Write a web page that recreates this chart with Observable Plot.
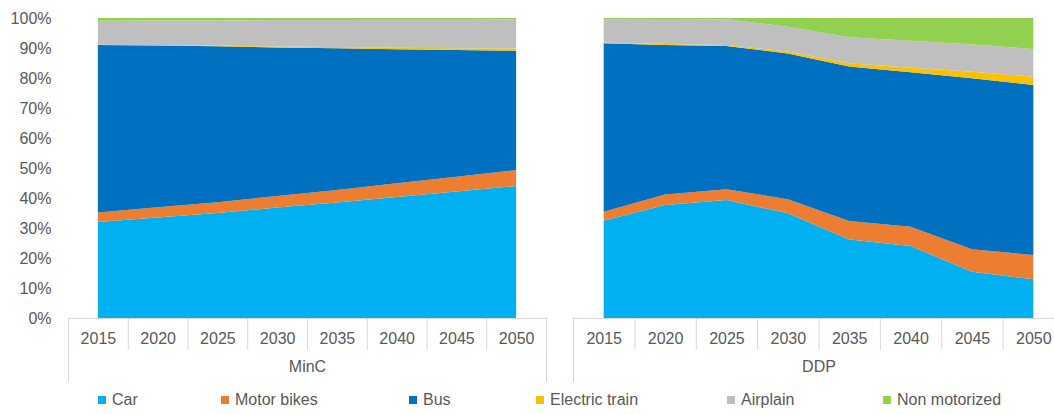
<!DOCTYPE html>
<html><head><meta charset="utf-8">
<script src="https://cdn.jsdelivr.net/npm/d3@7"></script>
<script src="https://cdn.jsdelivr.net/npm/@observablehq/plot@0.6"></script>
<style>
html,body{margin:0;padding:0;background:#fff;}
body{width:1054px;height:414px;overflow:hidden;font-family:"Liberation Sans",Arial,sans-serif;}
#wrap{position:relative;width:1054px;height:414px;overflow:hidden;}
.panel{position:absolute;top:0;}
.panel svg{overflow:visible;max-width:none !important;height:auto;}
#legend{position:absolute;top:391px;left:0;width:1054px;height:18px;font-size:16px;color:#595959;}
.item{position:absolute;top:0;display:flex;align-items:center;white-space:nowrap;line-height:18px;}
.sw{width:8px;height:8px;margin-right:6px;}
</style></head><body>
<div id="wrap"><div id="legend"></div></div>
<script>
// ---- data ----
const years = [2015, 2020, 2025, 2030, 2035, 2040, 2045, 2050];
const scenarios = ["MinC", "DDP"];
const modes = ["Car", "Motor bikes", "Bus", "Electric train", "Airplain", "Non motorized"];
const modeColors = ["#00B0F0", "#ED7D31", "#0070C0", "#FFC000", "#BFBFBF", "#92D050"];
const yTicks = [0, 10, 20, 30, 40, 50, 60, 70, 80, 90, 100];

// MinC shares (%)
const mincCar      = [32.0, 33.5, 35.0, 36.8, 38.5, 40.3, 42.2, 44.0];
const mincBikes    = [3.2, 3.4, 3.6, 3.9, 4.2, 4.6, 4.9, 5.3];
const mincBus      = [55.8, 53.9, 52.0, 49.5, 47.2, 44.7, 42.2, 39.8];
const mincTrain    = [0.1, 0.1, 0.2, 0.3, 0.4, 0.5, 0.6, 0.7];
const mincAir      = [8.0, 8.3, 8.4, 8.8, 9.0, 9.3, 9.5, 9.7];
const mincNonMot   = [0.9, 0.8, 0.8, 0.7, 0.7, 0.6, 0.6, 0.5];

// DDP shares (%)
const ddpCar       = [32.4, 37.7, 39.3, 34.9, 26.2, 24.0, 15.4, 12.9];
const ddpBikes     = [3.0, 3.5, 3.6, 4.7, 6.1, 6.4, 7.5, 8.1];
const ddpBus       = [56.2, 49.8, 47.8, 48.6, 51.5, 51.5, 57.0, 56.7];
const ddpTrain     = [0.2, 0.3, 0.3, 0.6, 1.1, 1.5, 2.2, 2.7];
const ddpAir       = [7.8, 8.4, 8.6, 8.3, 8.7, 9.0, 9.1, 9.3];
const ddpNonMot    = [0.4, 0.3, 0.4, 2.9, 6.4, 7.6, 8.8, 10.3];

const seriesByScenario = {
  MinC: [mincCar, mincBikes, mincBus, mincTrain, mincAir, mincNonMot],
  DDP:  [ddpCar, ddpBikes, ddpBus, ddpTrain, ddpAir, ddpNonMot]
};

// ---- layout ----
const TEXT = "#595959", LINE = "#d9d9d9", FONT = "16px";
const plotTop = 18, plotH = 300, marginBottom = 70;
const pxToY = 100 / plotH; // data units per pixel for axis decorations

function rows(scn) {
  const out = [];
  modes.forEach((m, i) => years.forEach((y, j) => out.push({year: y, mode: m, value: seriesByScenario[scn][i][j]})));
  return out;
}

function panel(scn, opts) {
  const {left, marginLeft, plotW, showY} = opts;
  const step = plotW / years.length;
  const marks = [
    Plot.areaY(rows(scn), {x: "year", y: "value", fill: "mode", order: modes}),
    Plot.ruleY([0], {stroke: LINE, strokeWidth: 1}),
    // inner category separators
    Plot.ruleX(years.slice(1), {x: d => d, dx: -step / 2, y1: 0, y2: -32 * pxToY, stroke: LINE}),
    // outer group borders
    Plot.ruleX([years[0]], {x: d => d, dx: -step / 2, y1: 0, y2: -64 * pxToY, stroke: LINE}),
    Plot.ruleX([years[years.length - 1]], {x: d => d, dx: step / 2, y1: 0, y2: -64 * pxToY, stroke: LINE}),
    Plot.text(years, {x: d => d, y: 0, dy: 20, text: d => String(d), fill: TEXT, fontSize: FONT}),
    Plot.text([scn], {frameAnchor: "bottom", dy: 53, text: d => d, fill: TEXT, fontSize: FONT})
  ];
  if (showY) {
    marks.push(Plot.axisY(yTicks, {tickSize: 0, tickPadding: 17, tickFormat: d => d + "%", fontSize: FONT, fill: TEXT, label: null}));
  }
  const chart = Plot.plot({
    width: marginLeft + plotW,
    height: plotTop + plotH + marginBottom,
    marginLeft, marginRight: 0, marginTop: plotTop, marginBottom,
    style: {fontFamily: '"Liberation Sans", Arial, sans-serif', fontSize: FONT, color: TEXT, background: "transparent", maxWidth: "none"},
    x: {type: "point", domain: years, padding: 0.5, round: false, axis: null},
    y: {domain: [0, 100], axis: null},
    color: {domain: modes, range: modeColors},
    marks
  });
  const div = document.createElement("div");
  div.className = "panel";
  div.style.left = left + "px";
  div.style.width = (marginLeft + plotW) + "px";
  div.appendChild(chart);
  document.getElementById("wrap").appendChild(div);
}

panel("MinC", {left: 0, marginLeft: 68, plotW: 478, showY: true});
panel("DDP", {left: 563, marginLeft: 10, plotW: 491, showY: false});

// ---- legend ----
const legendLeft = [98, 221, 409, 536, 727, 883];
const lg = document.getElementById("legend");
modes.forEach((m, i) => {
  const it = document.createElement("div");
  it.className = "item";
  it.style.left = legendLeft[i] + "px";
  const sw = document.createElement("span");
  sw.className = "sw";
  sw.style.background = modeColors[i];
  const tx = document.createElement("span");
  tx.textContent = m;
  it.appendChild(sw); it.appendChild(tx);
  lg.appendChild(it);
});
</script>
</body></html>
